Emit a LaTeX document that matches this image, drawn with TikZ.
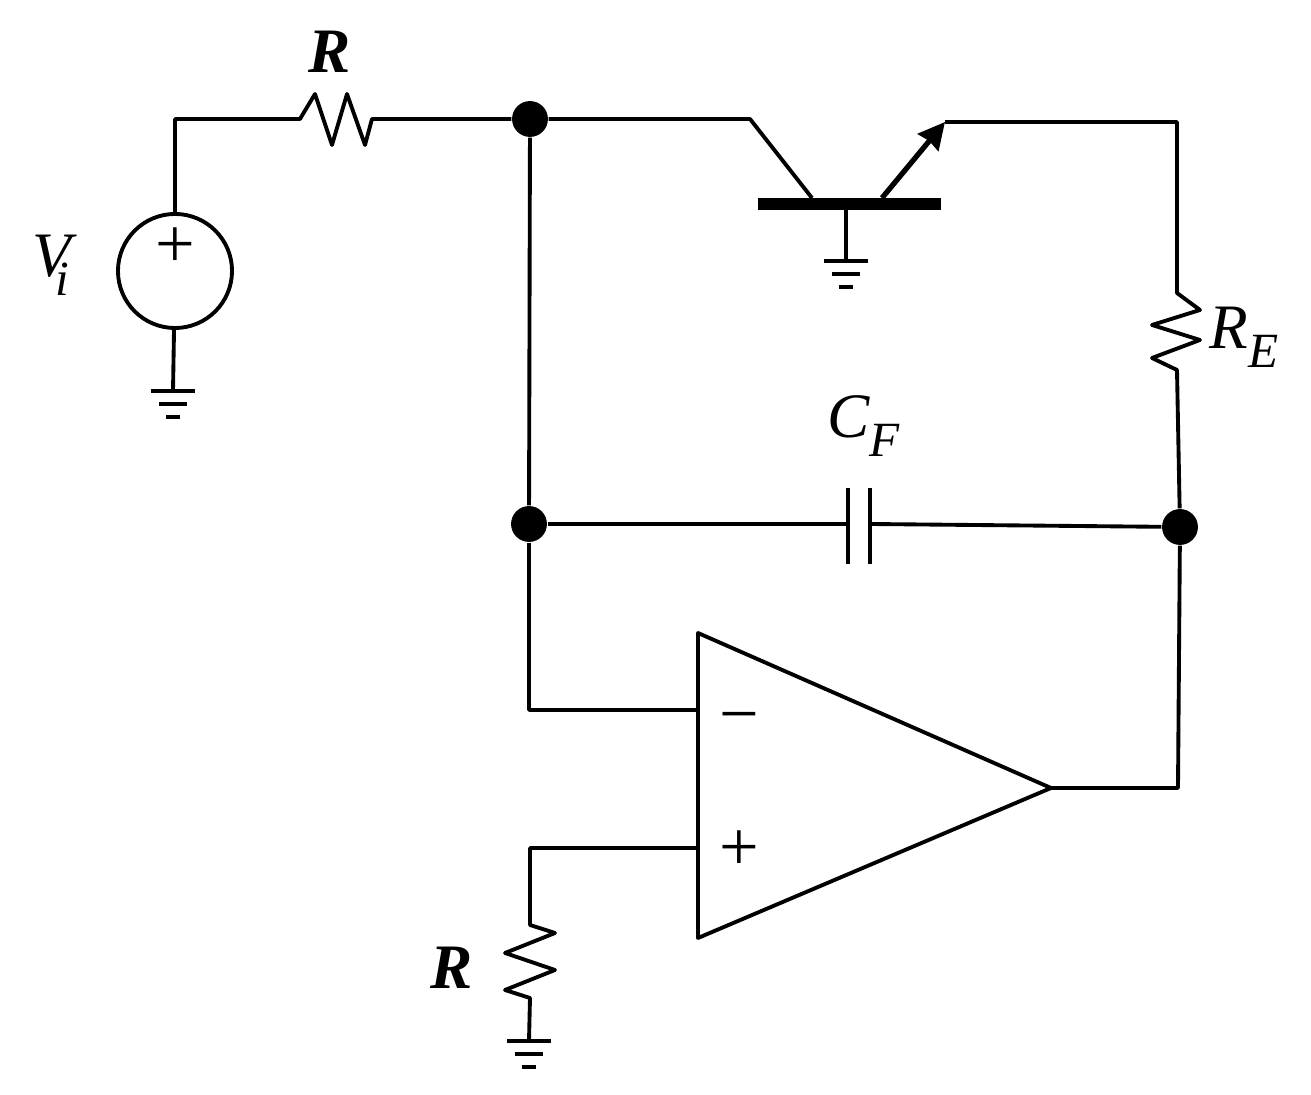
\documentclass[tikz,border=0pt]{standalone}
\usepackage{fontspec}
\setmainfont{Liberation Serif}
\usepackage{tikz}
\usetikzlibrary{arrows,arrows.meta,positioning,calc}
\tikzstyle{wire} = [line width=1.1pt,line join=round]
\tikzstyle{dot} = [circle,fill=black,inner sep=0pt,minimum size=10.2pt]
\tikzstyle{lab} = [inner sep=0pt,font=\fontsize{18}{18}\selectfont\itshape]
\tikzstyle{sign} = [inner sep=0pt,font=\fontsize{20}{20}\selectfont]
\newcommand{\Gnd}[1]{
\draw [wire] ($(#1)+(-22,0)$) -- ($(#1)+(22,0)$);
\draw [wire] ($(#1)+(-14,13)$) -- ($(#1)+(14,13)$);
\draw [wire] ($(#1)+(-7,26)$) -- ($(#1)+(7,26)$);
}
\newcommand{\Sub}[3][-0.3em]{#2\raisebox{#1}{\fontsize{14}{14}\selectfont #3}}

\begin{document}
\begin{tikzpicture}[x=0.01cm,y=-0.01cm]
\useasboundingbox (0,0) rectangle (1311,1095);

\node [dot] (top) at (530,119) {};
\node [dot] (mid) at (529,524) {};
\node [dot] (right) at (1180,527) {};
\node [draw,circle,line width=1.1pt,inner sep=0pt,minimum size=1.14cm] (src) at (175,271) {};

\coordinate (g1) at (173,391);
\coordinate (g2) at (846,261);
\coordinate (g3) at (529,1041);
\coordinate (tl) at (175,119);
\coordinate (col) at (750,119);
\coordinate (em) at (945,122);
\coordinate (er) at (1177,122);
\coordinate (barl) at (758,204);
\coordinate (barr) at (941,204);
\coordinate (base) at (846,204);
\coordinate (ampa) at (698,633);
\coordinate (ampb) at (698,938);
\coordinate (ampo) at (1051,788);
\coordinate (ampm) at (698,710);
\coordinate (ampp) at (698,848);
\coordinate (outc) at (1178,788);

% source and top resistor
\draw [wire] (src) -- (tl) -- (300,119) -- (315,94) -- (332,145) -- (347,94) -- (365,145) -- (372,119) -- (top);
\draw [wire] (src) -- (g1);
\Gnd{g1}
\node [lab,font=\fontsize{18}{18}\selectfont\itshape\bfseries] (r1) at (330,52) {R};
\node [lab,anchor=west] (vi) at (32,265) {\Sub[-0.3em]{V}{\hspace{-0.32em}i}};
\node [sign] (srcp) at (175,248) {+};

% transistor
\draw [wire] (top) -- (col) -- (812,198);
\draw [line width=3.4pt] (barl) -- (barr);
\draw [line width=1.5pt,-{Stealth[length=7.5pt,width=7.5pt,inset=0.5pt]}] (882,198) -- (em);
\draw [wire] (em) -- (er) -- (1177,293) -- (1200,310) -- (1152,325) -- (1200,340) -- (1152,358) -- (1177,370) -- (right);
\draw [wire] (base) -- (g2);
\Gnd{g2}
\node [lab,anchor=west] (re) at (1209,337) {\Sub{R}{E}};

% feedback
\draw [wire] (top) -- (mid);
\draw [wire] (mid) -- (848,524);
\draw [wire] (870,524) -- (right);
\draw [wire] (848,488) -- (848,564);
\draw [wire] (870,488) -- (870,564);
\node [lab,anchor=west] (cf) at (827,426) {\Sub{C}{F}};

% op amp
\draw [wire] (ampa) -- (ampb) -- (ampo) -- cycle;
\draw [wire] (mid) -- (529,710) -- (ampm);
\draw [wire] (ampp) -- (530,848) -- (530,925) -- (555,933) -- (505,953) -- (555,970) -- (505,990) -- (530,998) -- (g3);
\Gnd{g3}
\draw [wire] (ampo) -- (outc) -- (right);
\node [sign] (ampminus) at (739,725) {\textminus};
\node [sign] (ampplus) at (739,851) {+};
\node [lab,font=\fontsize{18}{18}\selectfont\itshape\bfseries] (r2) at (452,968) {R};
\end{tikzpicture}
\end{document}
